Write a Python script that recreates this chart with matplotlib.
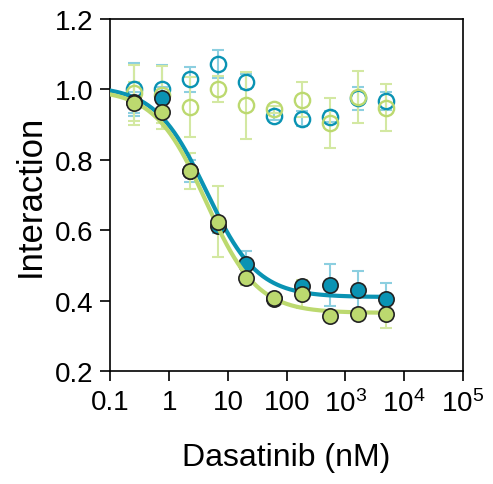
import numpy as np
import matplotlib
matplotlib.use("Agg")
import matplotlib.pyplot as plt

plt.rcParams['font.family'] = ['Liberation Sans', 'DejaVu Sans']
plt.rcParams['mathtext.fontset'] = 'custom'
plt.rcParams['mathtext.rm'] = 'Liberation Sans'
plt.rcParams['mathtext.it'] = 'Liberation Sans:italic'

# Dasatinib concentrations (nM)
conc = [0.254, 0.762, 2.29, 6.86, 20.6, 61.7, 185, 556, 1667, 5000]

# filled points (fitted series)
teal_fill = [0.963, 0.976, 0.768, 0.612, 0.504, 0.405, 0.440, 0.445, 0.431, 0.404]
teal_fill_err = [0.03, 0.03, 0.03, 0.02, 0.037, 0.015, 0.015, 0.06, 0.054, 0.045]
green_fill = [0.960, 0.936, 0.768, 0.624, 0.465, 0.406, 0.418, 0.357, 0.362, 0.362]
green_fill_err = [0.06, 0.05, 0.05, 0.10, 0.02, 0.01, 0.04, 0.01, 0.01, 0.04]

# open points (control series)
teal_open = [1.00, 1.00, 1.028, 1.073, 1.022, 0.923, 0.917, 0.922, 0.974, 0.967]
teal_open_err = [0.075, 0.07, 0.035, 0.04, 0.022, 0.01, 0.02, 0.015, 0.033, 0.025]
green_open = [0.99, 0.985, 0.95, 1.00, 0.955, 0.943, 0.97, 0.904, 0.978, 0.948]
green_open_err = [0.08, 0.08, 0.085, 0.037, 0.095, 0.01, 0.05, 0.07, 0.073, 0.067]

# 4PL fit parameters: top, bottom, EC50 (nM), hill
teal_fit = (1.01, 0.41, 4.3, 1.0)
green_fit = (1.00, 0.365, 4.2, 1.0)

teal = "#0a93b3"
teal_light = "#8ccfe0"
green = "#bcd96f"
green_light = "#d3e8a2"


def four_pl(x, top, bottom, ec50, hill):
    return bottom + (top - bottom) / (1 + (x / ec50) ** hill)


fig = plt.figure(figsize=(4.93, 4.85), dpi=100)
ax = fig.add_axes([0.224, 0.233, 0.715, 0.726])

eb = dict(fmt="none", elinewidth=1.5, capsize=4.5, capthick=1.5, zorder=1)

# open circles with error bars
ax.errorbar(conc, teal_open, yerr=teal_open_err, ecolor=teal_light, **eb)
ax.errorbar(conc, green_open, yerr=green_open_err, ecolor=green_light, **eb)
ax.plot(conc, teal_open, "o", ms=11, mfc="none", mec=teal, mew=1.7, zorder=2)
ax.plot(conc, green_open, "o", ms=11, mfc="none", mec=green, mew=1.7, zorder=2)

# filled circles with error bars
ax.errorbar(conc, teal_fill, yerr=teal_fill_err, ecolor=teal_light, **eb)
ax.errorbar(conc, green_fill, yerr=green_fill_err, ecolor=green_light, **eb)

xs = np.logspace(-1, np.log10(5000), 300)
ax.plot(xs, four_pl(xs, *teal_fit), color=teal, lw=3, zorder=3)
ax.plot(conc, teal_fill, "o", ms=11, mfc=teal, mec="#222222", mew=1.2, zorder=4)
ax.plot(xs, four_pl(xs, *green_fit), color=green, lw=3, zorder=5)
ax.plot(conc, green_fill, "o", ms=11, mfc=green, mec="#222222", mew=1.2, zorder=6)

ax.set_xscale("log")
ax.set_xlim(0.1, 1e5)
ax.set_ylim(0.2, 1.2)
ax.set_xticks([0.1, 1, 10, 100, 1e3, 1e4, 1e5])
ax.set_xticklabels(["0.1", "1", "10", "100", "10$^3$", "10$^4$", "10$^5$"])
ax.xaxis.set_minor_locator(matplotlib.ticker.NullLocator())
ax.set_yticks([0.2, 0.4, 0.6, 0.8, 1.0, 1.2])
ax.set_yticklabels(["0.2", "0.4", "0.6", "0.8", "1.0", "1.2"])
ax.tick_params(labelsize=20, length=7, width=1.2, direction="out")
ax.tick_params(axis="x", pad=6)
ax.tick_params(axis="y", pad=5)
for s in ax.spines.values():
    s.set_linewidth(1.2)

ax.set_xlabel("Dasatinib (nM)", fontsize=23, labelpad=18)
ax.set_ylabel("Interaction", fontsize=25, labelpad=6)

fig.savefig("out.png", dpi=100)
